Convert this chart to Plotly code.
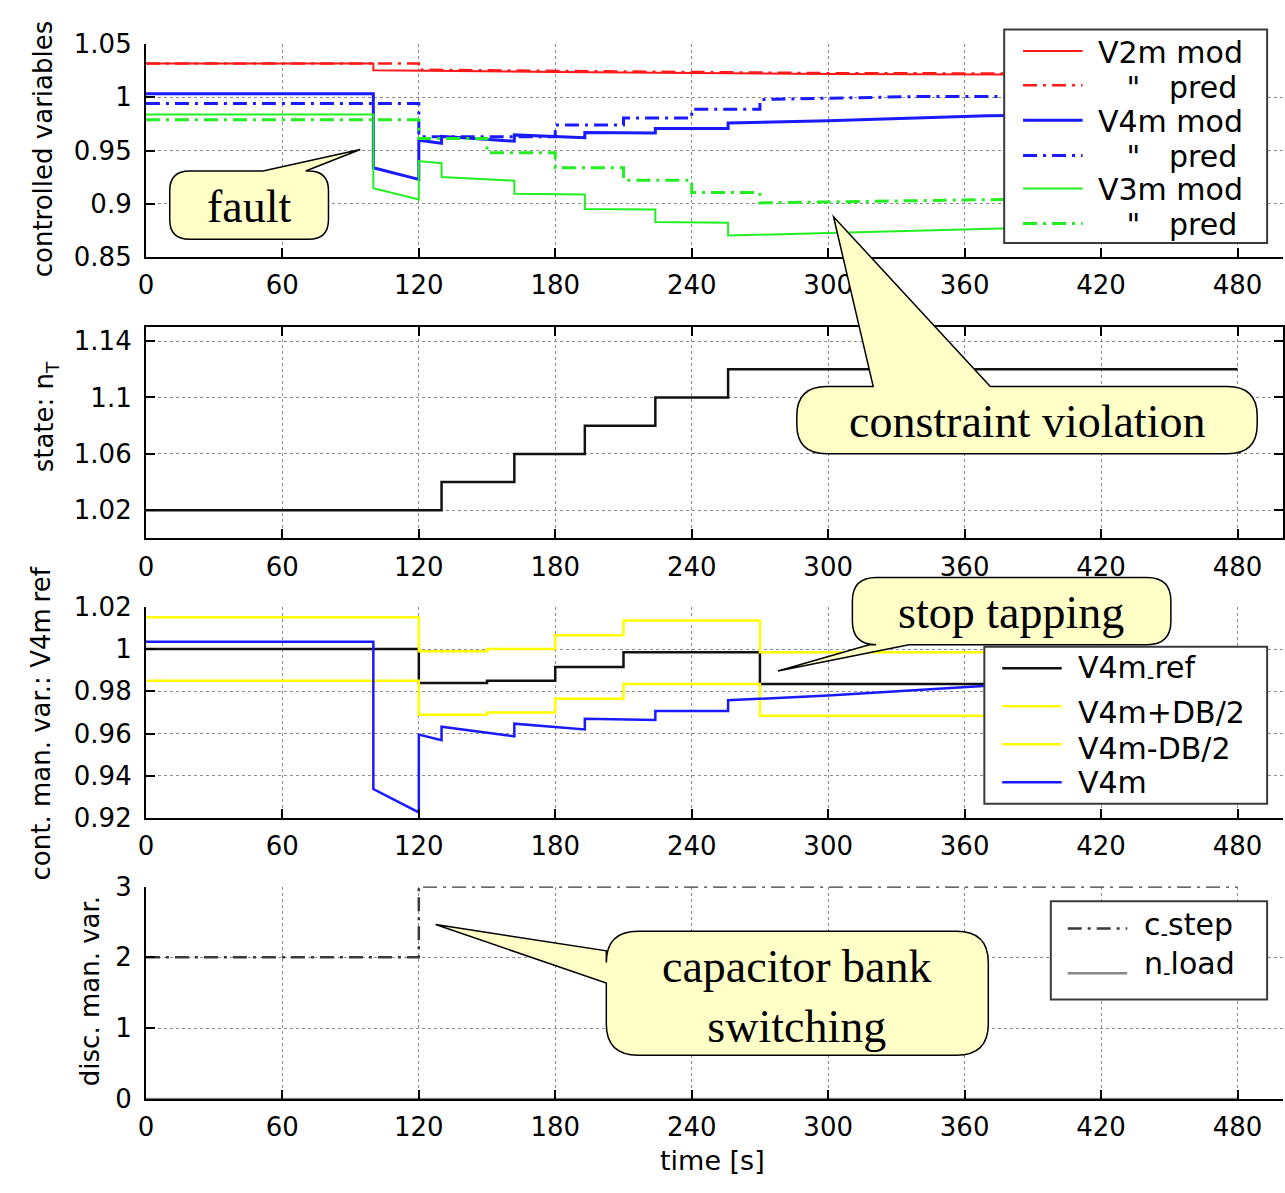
import plotly.graph_objects as go

W, H = 1285, 1193

# ---------------- data ----------------
x_ticks = [0, 60, 120, 180, 240, 300, 360, 420, 480]

# panel 1: controlled variables (model and prediction)
t_v2m_mod = [0, 100, 100, 120, 180, 240, 300, 376, 480]
v2m_mod = [1.0318, 1.0318, 1.0255, 1.025, 1.024, 1.023, 1.022, 1.0216, 1.0215]
t_v2m_pred = [0, 120, 120, 180, 240, 300, 480]
v2m_pred = [1.032, 1.032, 1.026, 1.0248, 1.0238, 1.0228, 1.022]

t_v4m = [0, 100, 100, 120, 120, 130, 130, 162, 162, 193, 193, 224, 224, 256, 256, 300, 370, 480]
v4m = [1.0034, 1.0034, 0.9338, 0.9228, 0.9596, 0.9569, 0.9633, 0.9587, 0.9647,
       0.962, 0.967, 0.9665, 0.9707, 0.9707, 0.9758, 0.978, 0.9827, 0.985]
t_v4m_pred = [0, 120, 120, 180, 180, 210, 210, 240, 240, 270, 270, 340, 480]
v4m_pred = [0.9943, 0.9943, 0.963, 0.963, 0.974, 0.974, 0.9805, 0.9805, 0.9888,
            0.9888, 0.998, 1.0008, 1.001]

t_v3m_mod = [0, 100, 100, 120, 120, 130, 130, 162, 162, 193, 193, 224, 224, 256, 256, 376, 480]
v3m_mod = [0.984, 0.984, 0.9145, 0.904, 0.940, 0.938, 0.925, 0.9216, 0.9094, 0.9085,
           0.895, 0.8945, 0.8827, 0.882, 0.870, 0.8766, 0.8775]
t_v3m_pred = [0, 120, 120, 150, 150, 180, 180, 210, 210, 240, 240, 270, 270, 376, 480]
v3m_pred = [0.979, 0.979, 0.9613, 0.9613, 0.948, 0.948, 0.9338, 0.9338, 0.922, 0.922,
            0.9104, 0.9104, 0.9007, 0.9039, 0.9045]

# panel 2: transformer tap state
t_nT = [0, 130, 162, 193, 224, 256, 480]
nT = [1.02, 1.04, 1.06, 1.08, 1.10, 1.12, 1.12]

# panel 3: continuous manipulated variable
t_ref = [0, 120, 150, 180, 210, 270, 480]
v4m_ref = [1.0, 0.984, 0.985, 0.9915, 0.9985, 0.9835, 0.9835]
v4m_up = [1.015, 0.999, 1.0, 1.0065, 1.0135, 0.9985, 0.9985]
v4m_lo = [0.985, 0.969, 0.970, 0.9765, 0.9835, 0.9685, 0.9685]

# panel 4: discrete manipulated variables
t_cstep = [0, 120, 480]
c_step = [2, 3, 3]
t_nload = [0, 480]
n_load = [0, 0]

# ---------------- styles ----------------
RED, BLUE, GREEN = "#ff1a1a", "#1a1aff", "#22ee22"
YELLOW, BLACK, GREY = "#ffff00", "#111111", "#888888"
DASHDOT = "14px,6px,3px,6px"
FONT = "DejaVu Sans"
SERIF = "Liberation Serif"

styles = {
    "V2m mod": dict(color=RED, width=2),
    "V2m pred": dict(color=RED, width=2.5, dash=DASHDOT),
    "V4m mod": dict(color=BLUE, width=3),
    "V4m pred": dict(color=BLUE, width=3, dash=DASHDOT),
    "V3m mod": dict(color=GREEN, width=2),
    "V3m pred": dict(color=GREEN, width=3, dash=DASHDOT),
    "nT": dict(color=BLACK, width=2.5),
    "V4m_ref": dict(color=BLACK, width=2.5),
    "V4m+DB/2": dict(color=YELLOW, width=2.5),
    "V4m-DB/2": dict(color=YELLOW, width=2.5),
    "V4m": dict(color=BLUE, width=2.5),
    "c_step": dict(color="#3a3a3a", width=2.5, dash=DASHDOT),
    "n_load": dict(color=GREY, width=2.5),
}

# ---------------- layout helpers ----------------
X0 = 139  # left edge of plotting area (px)
panels_px = [(30, 248), (320, 537), (607, 824), (894, 1112)]


def px(x):
    return x / W


def py(y):
    return 1 - y / H


def dom(top, bot):
    return [py(bot), py(top)]


fig = go.Figure()


def add_line(t, v, key, ax, shape="linear"):
    fig.add_trace(go.Scatter(x=t, y=v, name=key, mode="lines", showlegend=False,
                             line=dict(shape=shape, **styles[key]),
                             xaxis="x" + ax, yaxis="y" + ax))


# panel 1
add_line(t_v2m_mod, v2m_mod, "V2m mod", "")
add_line(t_v2m_pred, v2m_pred, "V2m pred", "")
add_line(t_v4m, v4m, "V4m mod", "")
add_line(t_v4m_pred, v4m_pred, "V4m pred", "")
add_line(t_v3m_mod, v3m_mod, "V3m mod", "")
add_line(t_v3m_pred, v3m_pred, "V3m pred", "")
# panel 2
add_line(t_nT, nT, "nT", "2", "hv")
# panel 3
add_line(t_ref, v4m_ref, "V4m_ref", "3", "hv")
add_line(t_ref, v4m_up, "V4m+DB/2", "3", "hv")
add_line(t_ref, v4m_lo, "V4m-DB/2", "3", "hv")
add_line(t_v4m, v4m, "V4m", "3")
# panel 4
add_line(t_cstep, c_step, "c_step", "4", "hv")
add_line(t_nload, n_load, "n_load", "4")

axis_common = dict(showline=True, linecolor="black", linewidth=2, ticks="inside", ticklen=9,
                   tickwidth=2, tickcolor="black", showgrid=True, gridcolor="#8c8c8c",
                   griddash="dot", gridwidth=1, zeroline=False,
                   tickfont=dict(family=FONT, size=26, color="black"))

yspecs = [
    dict(range=[0.85, 1.05], tickvals=[0.85, 0.9, 0.95, 1.0, 1.05]),
    dict(range=[1.0, 1.15], tickvals=[1.02, 1.06, 1.1, 1.14]),
    dict(range=[0.92, 1.02], tickvals=[0.92, 0.94, 0.96, 0.98, 1.0, 1.02]),
    dict(range=[0, 3], tickvals=[0, 1, 2, 3]),
]

layout = dict(width=W, height=H, margin=dict(l=0, r=0, t=0, b=0),
              paper_bgcolor="white", plot_bgcolor="white", showlegend=False)

for i, ((top, bot), ys) in enumerate(zip(panels_px, yspecs)):
    sfx = "" if i == 0 else str(i + 1)
    mirror = "ticks" if i == 1 else False
    layout["xaxis" + sfx] = dict(axis_common, domain=[px(X0), 1.0], range=[0, 500],
                                 tickvals=x_ticks, anchor="y" + sfx, mirror=mirror,
                                 ticklabelstandoff=4)
    layout["yaxis" + sfx] = dict(axis_common, domain=dom(top, bot), anchor="x" + sfx,
                                 mirror=mirror, ticklabelstandoff=7, **ys)

fig.update_layout(**layout)


# ---------------- legends (boxed, drawn over the traces) ----------------
def legend_box(x0, y0, x1, y1, sx0, sx1, tx, size, entries):
    fig.add_shape(type="rect", xref="paper", yref="paper",
                  x0=px(x0), x1=px(x1), y0=py(y0), y1=py(y1),
                  fillcolor="white", line=dict(color="#3a3a3a", width=2), layer="above")
    for label, key, sy, ty in entries:
        st = styles[key]
        fig.add_shape(type="line", xref="paper", yref="paper",
                      x0=px(sx0), x1=px(sx1), y0=py(sy), y1=py(sy), layer="above",
                      line=dict(color=st["color"], width=st["width"], dash=st.get("dash", "solid")))
        fig.add_annotation(x=px(tx), y=py(ty), xref="paper", yref="paper", text=label,
                           showarrow=False, xanchor="left", yanchor="middle",
                           font=dict(family=FONT, size=size, color="black"))


DITTO = "\u00a0\u00a0\u00a0\"\u00a0\u00a0\u00a0pred"
legend_box(1004, 15, 1269, 234, 1023, 1083, 1097, 30, [
    ("V2m mod", "V2m mod", 37, 38),
    (DITTO, "V2m pred", 72, 74),
    ("V4m mod", "V4m mod", 108, 109),
    (DITTO, "V4m pred", 144, 145),
    ("V3m mod", "V3m mod", 178, 179),
    (DITTO, "V3m pred", 214, 215),
])
legend_box(984, 648, 1269, 809, 1002, 1062, 1076, 30, [
    ("V4m<sub>-</sub>ref", "V4m_ref", 670, 671),
    ("V4m+DB/2", "V4m+DB/2", 709, 716),
    ("V4m-DB/2", "V4m-DB/2", 748, 752),
    ("V4m", "V4m", 787, 787),
])
legend_box(1051, 909, 1269, 1010, 1068, 1128, 1143, 30, [
    ("c<sub>-</sub>step", "c_step", 937, 935),
    ("n<sub>-</sub>load", "n_load", 983, 975),
])


# ---------------- speech-bubble callouts ----------------
def P(x, y):
    return f"{px(x):.5f},{py(y):.5f}"


def bubble(x0, y0, x1, y1, r, side, b0, b1, tip):
    s = f"M{P(x0 + r, y0)}"
    if side == "top":
        s += f" L{P(b0, y0)} L{P(*tip)} L{P(b1, y0)}"
    s += f" L{P(x1 - r, y0)} Q{P(x1, y0)} {P(x1, y0 + r)}"
    s += f" L{P(x1, y1 - r)} Q{P(x1, y1)} {P(x1 - r, y1)}"
    if side == "bottom":
        s += f" L{P(b1, y1)} L{P(*tip)} L{P(b0, y1)}"
    s += f" L{P(x0 + r, y1)} Q{P(x0, y1)} {P(x0, y1 - r)}"
    if side == "left":
        s += f" L{P(x0, b1)} L{P(*tip)} L{P(x0, b0)}"
    s += f" L{P(x0, y0 + r)} Q{P(x0, y0)} {P(x0 + r, y0)} Z"
    return s


callouts = [
    (bubble(163, 160, 323, 230, 20, "top", 257, 300, (355, 138)), "fault", (243, 196)),
    (bubble(795, 381, 1259, 450, 30, "top", 872, 990, (832, 207)), "constraint violation", (1027, 417)),
    (bubble(851, 577, 1172, 646, 24, "bottom", 868, 908, (776, 673)), "stop tapping", (1011, 613)),
    (bubble(603, 940, 988, 1067, 32, "left", 960, 993, (431, 933)), "capacitor bank<br>switching", (795, 1007)),
]

for path, text, (cx, cy) in callouts:
    fig.add_shape(type="path", path=path, xref="paper", yref="paper",
                  fillcolor="#ffffc8", line=dict(color="black", width=1.5), layer="above")
    fig.add_annotation(x=px(cx), y=py(cy), xref="paper", yref="paper", text=text,
                       showarrow=False, xanchor="center", yanchor="middle",
                       font=dict(family=SERIF, size=46, color="black"))

# axis titles
titles = [
    ("controlled variables", 35, 137),
    ("state: n<sub>T</sub>", 38, 412),
    ("cont. man. var.: V4m<sub> </sub>ref", 35, 727),
    ("disc. man. var.", 82, 1001),
]
for text, cx, cy in titles:
    fig.add_annotation(x=px(cx), y=py(cy), xref="paper", yref="paper", text=text,
                       showarrow=False, textangle=-90, xanchor="center", yanchor="middle",
                       font=dict(family=FONT, size=26, color="black"))

fig.add_annotation(x=px(710), y=py(1175), xref="paper", yref="paper", text="time [s]",
                   showarrow=False, xanchor="center", yanchor="middle",
                   font=dict(family=FONT, size=27, color="black"))

fig.write_html("out.html")
